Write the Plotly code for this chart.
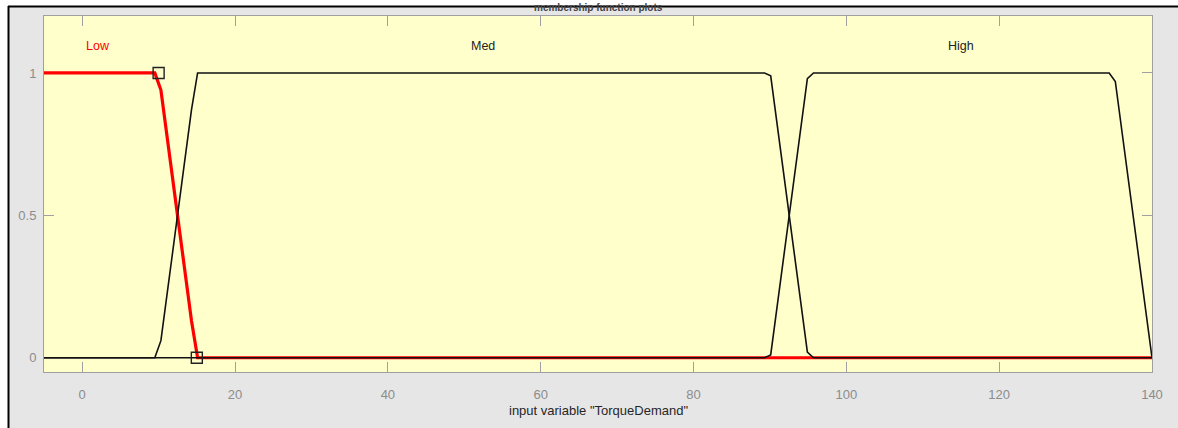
import plotly.graph_objects as go

# Membership functions of the input variable "TorqueDemand" (vertices of the plotted curves)
low_x = [-5, 9.5, 10.3, 14.3, 15.1, 140]
low_y = [1, 1, 0.94, 0.13, 0, 0]

med_x = [-5, 9.5, 10.3, 14.3, 15.1, 89.3, 90.1, 94.9, 95.7, 140]
med_y = [0, 0, 0.06, 0.87, 1, 1, 0.99, 0.02, 0, 0]

high_x = [-5, 89.3, 90.1, 94.9, 95.7, 134.4, 135.2, 140]
high_y = [0, 0, 0.01, 0.98, 1, 1, 0.97, 0]

# Parameter handles of the selected membership function (Low)
param_x = [10, 15]
param_y = [1, 0]

mf_names = ["Low", "Med", "High"]
mf_label_x = [2.1, 52.5, 115]
mf_label_y = [1.095, 1.095, 1.095]
mf_label_colors = ["#ff0000", "#222222", "#222222"]

x_ticks = [0, 20, 40, 60, 80, 100, 120, 140]
y_ticks = [0, 0.5, 1]

W, H = 1178, 428
ML, MR, MT, MB = 44, 26, 16, 56
PW, PH = W - ML - MR, H - MT - MB


def px(x):
    return (x - ML) / PW


def py(y):
    return (H - MB - y) / PH


FONT = "Liberation Sans, Arial, sans-serif"
GRAY = "#a0a0a0"

fig = go.Figure()

fig.add_trace(go.Scatter(x=low_x, y=low_y, mode="lines",
                         line=dict(color="#ff0000", width=3.2), hoverinfo="skip"))
fig.add_trace(go.Scatter(x=med_x, y=med_y, mode="lines",
                         line=dict(color="#111111", width=1.6), hoverinfo="skip"))
fig.add_trace(go.Scatter(x=high_x, y=high_y, mode="lines",
                         line=dict(color="#111111", width=1.6), hoverinfo="skip"))
fig.add_trace(go.Scatter(x=param_x, y=param_y, mode="markers",
                         marker=dict(symbol="square-open", size=11,
                                     color="#222222", line=dict(width=1.4)),
                         hoverinfo="skip"))

for name, lx, ly, c in zip(mf_names, mf_label_x, mf_label_y, mf_label_colors):
    fig.add_annotation(x=lx, y=ly, text=name, showarrow=False,
                       font=dict(family=FONT, size=12.5, color=c),
                       xanchor="center", yanchor="middle")

# Axis title and the window title strip
fig.add_annotation(x=0.5, y=py(410), xref="paper", yref="paper",
                   text='input variable "TorqueDemand"', showarrow=False,
                   font=dict(family=FONT, size=13, color="#262626"),
                   xanchor="center", yanchor="middle")
fig.add_annotation(x=px(598), y=py(7), xref="paper", yref="paper",
                   text="<b>membership function plots</b>", showarrow=False,
                   font=dict(family=FONT, size=10, color="#444444"),
                   xanchor="center", yanchor="middle")

shapes = [
    # white margins outside the figure window
    dict(type="rect", xref="paper", yref="paper", x0=px(0), x1=px(W), y0=py(6), y1=py(-2),
         fillcolor="white", line=dict(width=0), layer="below"),
    dict(type="rect", xref="paper", yref="paper", x0=px(-2), x1=px(8), y0=py(H + 2), y1=py(-2),
         fillcolor="white", line=dict(width=0), layer="below"),
    # black window frame
    dict(type="line", xref="paper", yref="paper", x0=px(8), x1=px(W + 2), y0=py(6.5), y1=py(6.5),
         line=dict(color="black", width=2)),
    dict(type="line", xref="paper", yref="paper", x0=px(8.5), x1=px(8.5), y0=py(6), y1=py(H + 2),
         line=dict(color="black", width=2)),
]

fig.update_layout(
    width=W, height=H,
    margin=dict(l=ML, r=MR, t=MT, b=MB),
    paper_bgcolor="#e6e6e6",
    plot_bgcolor="#ffffcc",
    showlegend=False,
    shapes=shapes,
    font=dict(family=FONT, size=13, color="#8c8c8c"),
)

fig.update_xaxes(range=[-5, 140], tickvals=x_ticks, ticks="inside", ticklen=10,
                 tickcolor=GRAY, tickwidth=1, showline=True, linecolor=GRAY, linewidth=1,
                 mirror="ticks", showgrid=False, zeroline=False, layer="below traces",
                 tickfont=dict(family=FONT, size=13, color="#8c8c8c"),
                 ticklabelstandoff=10)
fig.update_yaxes(range=[-0.05, 1.2], tickvals=y_ticks, ticktext=["0", "0.5", "1"],
                 ticks="inside", ticklen=10,
                 tickcolor=GRAY, tickwidth=1, showline=True, linecolor=GRAY, linewidth=1,
                 mirror="ticks", showgrid=False, zeroline=False, layer="below traces",
                 tickfont=dict(family=FONT, size=13, color="#8c8c8c"),
                 ticklabelstandoff=4)

fig.write_html("out.html")
